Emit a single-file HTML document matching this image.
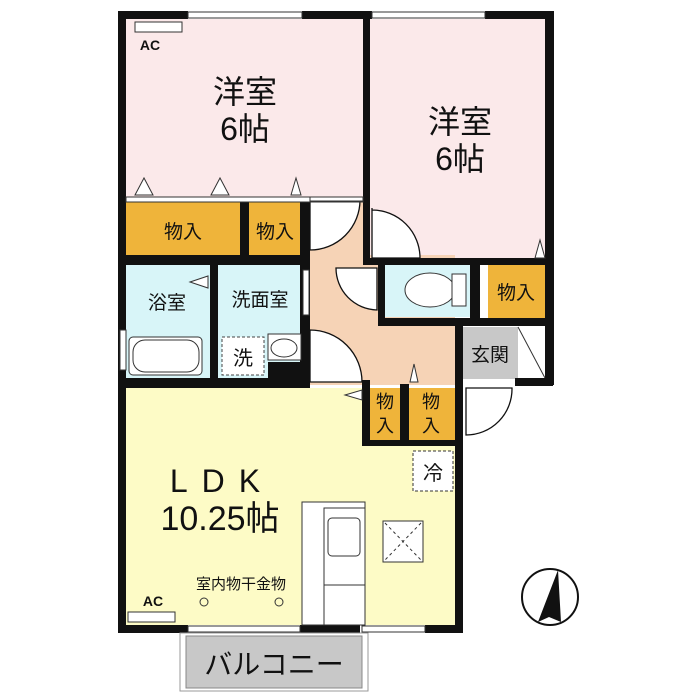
<!DOCTYPE html>
<html><head><meta charset="utf-8"><style>
html,body{margin:0;padding:0;background:#fff}
svg{display:block}
text{font-family:"Liberation Sans","Noto Sans CJK JP",sans-serif;fill:#111}
</style></head><body>
<svg width="700" height="700" viewBox="0 0 700 700" xmlns="http://www.w3.org/2000/svg">
<rect x="126" y="19" width="237" height="178" fill="#fbe9ea"/>
<rect x="370" y="19" width="175" height="240" fill="#fbe9ea"/>
<rect x="126" y="202" width="114" height="53" fill="#efb43a"/>
<rect x="249" y="202" width="51" height="53" fill="#efb43a"/>
<rect x="126" y="265" width="84" height="113" fill="#d8f5f8"/>
<rect x="218" y="265" width="85" height="113" fill="#d8f5f8"/>
<rect x="310" y="201" width="53" height="60" fill="#f6d3b6"/>
<rect x="310" y="255" width="145" height="130" fill="#f6d3b6"/>
<rect x="385" y="265" width="85" height="52" fill="#d8f5f8"/>
<rect x="488" y="265" width="57" height="53" fill="#efb43a"/>
<rect x="463" y="327" width="55" height="52" fill="#c8c8c8"/>
<rect x="126" y="388" width="329" height="237" fill="#fdfbc6"/>
<rect x="370" y="388" width="30" height="52" fill="#efb43a"/>
<rect x="409" y="388" width="46" height="52" fill="#efb43a"/>
<path d="M310 200 L360 200 A50 50 0 0 1 310 250 Z" fill="#fff" stroke="#111" stroke-width="1.3"/>
<path d="M372 208 L372 258 L420 258 A48 48 0 0 0 372 210 Z" fill="#fff" stroke="#111" stroke-width="1.3"/>
<path d="M377 268 L336 268 A42 42 0 0 0 377 310 Z" fill="#fff" stroke="#111" stroke-width="1.3"/>
<path d="M310 330 L310 382 L362 382 A52 52 0 0 0 310 330 Z" fill="#fff" stroke="#111" stroke-width="1.3"/>
<path d="M466 388 L466 435 A46 46 0 0 0 512 388 Z" fill="#fff" stroke="#111" stroke-width="1.3"/>
<g fill="#111">
<rect x="118" y="11" width="70" height="8"/><rect x="302" y="11" width="70" height="8"/>
<rect x="485" y="11" width="68" height="8"/>
<rect x="118" y="11" width="8" height="621"/>
<rect x="363" y="11" width="7" height="254"/>
<rect x="545" y="11" width="9" height="374"/>
<rect x="118" y="195" width="8" height="8"/>
<rect x="240" y="197" width="9" height="62"/>
<rect x="300" y="197" width="10" height="188"/>
<rect x="118" y="255" width="190" height="10"/>
<rect x="363" y="258" width="190" height="7"/>
<rect x="210" y="265" width="8" height="120"/>
<rect x="378" y="258" width="7" height="67"/>
<rect x="470" y="258" width="10" height="67"/>
<rect x="378" y="318" width="175" height="8"/>
<rect x="455" y="318" width="8" height="314"/>
<rect x="515" y="378" width="38" height="8"/>
<rect x="118" y="378" width="192" height="10"/>
<rect x="362" y="380" width="8" height="62"/>
<rect x="400" y="384" width="9" height="58"/>
<rect x="362" y="440" width="100" height="6"/>
<rect x="118" y="625" width="70" height="8"/>
<rect x="300" y="625" width="60" height="8"/>
<rect x="425" y="625" width="38" height="8"/>
<rect x="303" y="580" width="20" height="45"/>
<rect x="268" y="362" width="35" height="18"/>
</g>
<g fill="#fff" stroke="#333" stroke-width="1">
<rect x="188" y="12" width="114" height="6"/><rect x="372" y="12" width="113" height="6"/>
<rect x="188" y="626" width="112" height="6"/><rect x="362" y="626" width="63" height="6"/>
<rect x="126" y="197" width="237" height="5"/>
<rect x="310" y="197" width="53" height="4"/>
<rect x="120" y="330" width="6" height="40"/>
<rect x="303" y="270" width="6" height="45"/>
</g>
<rect x="180" y="633" width="188" height="58" fill="#fff" stroke="#999" stroke-width="1"/>
<rect x="186" y="636" width="176" height="52" fill="#c8c8c8" stroke="#888" stroke-width="1"/>
<text x="274" y="674" font-size="28" text-anchor="middle">バルコニー</text>
<rect x="129" y="337" width="73" height="38" rx="4" fill="#fff" stroke="#333"/>
<rect x="133" y="340" width="66" height="32" rx="12" fill="#fff" stroke="#333"/>
<rect x="222" y="337" width="42" height="38" fill="#fff" stroke="#444" stroke-dasharray="3,2"/>
<text x="243" y="365" font-size="20" text-anchor="middle">洗</text>
<rect x="268" y="334" width="33" height="26" fill="#fff" stroke="#333"/>
<ellipse cx="284" cy="348" rx="13" ry="9" fill="#fff" stroke="#333"/>
<ellipse cx="430" cy="290" rx="25" ry="17" fill="#fff" stroke="#333"/>
<rect x="452" y="274" width="14" height="32" fill="#fff" stroke="#333"/>
<rect x="482" y="268" width="4" height="48" fill="#fff"/>
<rect x="135" y="22" width="47" height="10" fill="#fff" stroke="#333"/>
<rect x="128" y="612" width="47" height="10" fill="#fff" stroke="#333"/>
<text x="150" y="50" font-size="14" font-weight="bold" text-anchor="middle">AC</text>
<text x="153" y="606" font-size="14" font-weight="bold" text-anchor="middle">AC</text>
<rect x="302" y="502" width="63" height="123" fill="#fff" stroke="#333"/>
<rect x="324" y="508" width="41" height="117" fill="#fff" stroke="#333"/>
<rect x="324" y="585" width="41" height="40" fill="#fff" stroke="#333"/>
<rect x="328" y="518" width="32" height="38" rx="4" fill="#fff" stroke="#333"/>
<rect x="383" y="521" width="40" height="41" fill="#fff" stroke="#333"/>
<path d="M385 523 L421 560 M421 523 L385 560" stroke="#333" stroke-dasharray="3,3"/>
<rect x="413" y="451" width="40" height="40" fill="#fff" stroke="#333" stroke-dasharray="3,2"/>
<text x="433" y="480" font-size="20" text-anchor="middle">冷</text>
<circle cx="204" cy="602" r="4" fill="none" stroke="#333"/><circle cx="279" cy="602" r="4" fill="none" stroke="#333"/>
<text x="241" y="589" font-size="15" text-anchor="middle">室内物干金物</text>
<g fill="#fff" stroke="#333">
<path d="M135 195 L144 178 L153 195Z"/><path d="M211 195 L220 178 L229 195Z"/><path d="M291 195 L296 178 L301 195Z"/>
<path d="M535 258 L540 240 L545 258Z"/><path d="M410 382 L414 364 L418 382Z"/>
<path d="M190 282 L208 276 L208 288Z"/><path d="M345 395 L362 390 L362 400Z"/>
<path d="M518 327 L545 378" fill="none"/>
</g>
<text x="245" y="103" font-size="32" text-anchor="middle">洋室</text>
<text x="245" y="140" font-size="32" text-anchor="middle">6帖</text>
<text x="460" y="133" font-size="32" text-anchor="middle">洋室</text>
<text x="460" y="170" font-size="32" text-anchor="middle">6帖</text>
<text x="183" y="238" font-size="19" text-anchor="middle">物入</text>
<text x="275" y="238" font-size="19" text-anchor="middle">物入</text>
<text x="516" y="299" font-size="19" text-anchor="middle">物入</text>
<text x="490" y="361" font-size="19" text-anchor="middle">玄関</text>
<text x="167" y="309" font-size="19" text-anchor="middle">浴室</text>
<text x="260" y="306" font-size="19" text-anchor="middle">洗面室</text>
<text x="385" y="408" font-size="18" text-anchor="middle">物</text>
<text x="385" y="432" font-size="18" text-anchor="middle">入</text>
<text x="431" y="408" font-size="18" text-anchor="middle">物</text>
<text x="431" y="432" font-size="18" text-anchor="middle">入</text>
<text x="222" y="492" font-size="32" text-anchor="middle" letter-spacing="14">LDK</text>
<text x="220" y="530" font-size="34" text-anchor="middle">10.25帖</text>
<circle cx="550" cy="597" r="28" fill="#fff" stroke="#111" stroke-width="2"/>
<path d="M558 570 L538 622 L549 617 L561 622 Z" fill="#111"/>
</svg>
</body></html>
